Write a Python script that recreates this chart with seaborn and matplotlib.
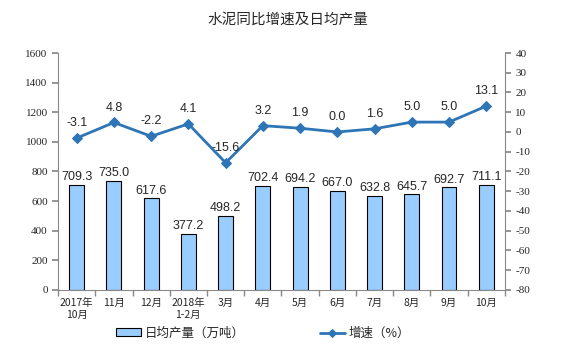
import seaborn as sns
import matplotlib.pyplot as plt
import pandas as pd
import numpy as np

sns.set_theme(style="white")
plt.rcParams['font.family'] = ['Noto Sans CJK SC', 'DejaVu Sans']
plt.rcParams['axes.unicode_minus'] = False

# --- Data ---
months = ['2017年\n10月', '11月', '12月', '2018年\n1-2月', '3月', '4月', '5月',
          '6月', '7月', '8月', '9月', '10月']
daily_output = [709.3, 735.0, 617.6, 377.2, 498.2, 702.4, 694.2,
                667.0, 632.8, 645.7, 692.7, 711.1]
growth = [-3.1, 4.8, -2.2, 4.1, -15.6, 3.2, 1.9, 0.0, 1.6, 5.0, 5.0, 13.1]

df = pd.DataFrame({'month': months, 'output': daily_output, 'growth': growth})
df['pos'] = np.arange(len(df))

bar_color = '#99CCFF'
line_color = '#2E75B6'
axis_gray = '#888888'

fig = plt.figure(figsize=(5.75, 3.51), dpi=100)
ax = fig.add_axes([0.101, 0.174, 0.777, 0.675])

sns.barplot(data=df, x='pos', y='output', color=bar_color, saturation=1, width=0.4,
            edgecolor='black', linewidth=0.8, ax=ax, label='日均产量（万吨）')
for p, v in zip(df['pos'], df['output']):
    ax.text(p, v + 12, f'{v:.1f}', ha='center', va='bottom', fontsize=9,
            family='Liberation Sans')

ax.set_ylim(0, 1600)
ax.set_yticks(np.arange(0, 1601, 200))
ax.set_xlim(-0.5, len(df) - 0.5)
ax.set_xticks(df['pos'])
ax.set_xticklabels(months, fontsize=7.5)
ax.set_xlabel('')
ax.set_ylabel('')
ax.tick_params(axis='x', length=0, pad=6)
ax.tick_params(axis='y', labelsize=8, length=4, color=axis_gray, direction='out', left=True)
for lab in ax.get_yticklabels():
    lab.set_family('Liberation Serif')
# category separators on the x axis
ax.set_xticks(np.arange(-0.5, len(df), 1), minor=True)
ax.tick_params(axis='x', which='minor', length=4, color=axis_gray, direction='out', bottom=True)

ax2 = ax.twinx()
sns.lineplot(data=df, x='pos', y='growth', color=line_color, linewidth=2,
             marker='D', markersize=5, markeredgecolor=line_color, ax=ax2,
             label='增速（%）')
for p, v in zip(df['pos'], df['growth']):
    ax2.text(p, v + 4.5, f'{v:.1f}', ha='center', va='bottom', fontsize=9,
             family='Liberation Sans')
ax2.set_ylim(-80, 40)
ax2.set_yticks(np.arange(-80, 41, 10))
ax2.set_ylabel('')
ax2.tick_params(axis='y', labelsize=8, length=4, color=axis_gray, direction='out', right=True)
for lab in ax2.get_yticklabels():
    lab.set_family('Liberation Serif')

for a in (ax, ax2):
    for side in ('top', 'right', 'left', 'bottom'):
        a.spines[side].set_visible(False)
ax.spines['left'].set_visible(True)
ax.spines['bottom'].set_visible(True)
ax2.spines['right'].set_visible(True)
for s in (ax.spines['left'], ax.spines['bottom'], ax2.spines['right']):
    s.set_color(axis_gray)
    s.set_linewidth(0.8)

ax2.get_legend().remove()
h1, l1 = ax.get_legend_handles_labels()
h2, l2 = ax2.get_legend_handles_labels()
fig.legend(h1 + h2, l1 + l2, loc='lower center', bbox_to_anchor=(0.457, 0.0),
           ncol=2, frameon=False, fontsize=9, columnspacing=6,
           handlelength=2.0, handleheight=0.6, handletextpad=0.3, markerscale=0.8)
if ax.get_legend():
    ax.get_legend().remove()

fig.suptitle('水泥同比增速及日均产量', y=0.965, fontsize=10.5)

plt.savefig('out.png', dpi=100)
plt.close()
